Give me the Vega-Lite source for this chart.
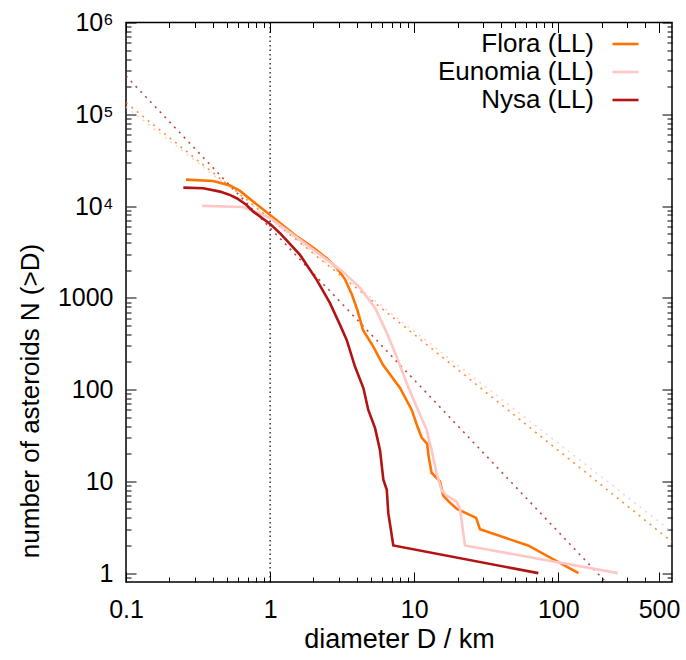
{
  "$schema": "https://vega.github.io/schema/vega-lite/v6.json",
  "width": 546,
  "height": 559.5,
  "autosize": {"type": "none"},
  "padding": {"left": 126, "top": 22.5, "right": 14, "bottom": 78},
  "background": "white",
  "config": {
    "font": "Liberation Sans",
    "view": {"stroke": "#000000", "strokeWidth": 1.5},
    "axis": {
      "domain": false, "grid": false, "tickColor": "#000000", "tickWidth": 1,
      "labelColor": "#000000", "labelFontSize": 25, "labelFont": "Liberation Sans",
      "titleFontSize": 26, "titleFontWeight": "normal", "titleColor": "#000000", "titleFont": "Liberation Sans"
    }
  },
  "datasets": {
    "curves": [
      {"set": "Flora (LL)", "D": 0.261, "N": 19400},
      {"set": "Flora (LL)", "D": 0.402, "N": 18770},
      {"set": "Flora (LL)", "D": 0.527, "N": 16760},
      {"set": "Flora (LL)", "D": 0.618, "N": 14600},
      {"set": "Flora (LL)", "D": 0.765, "N": 11160},
      {"set": "Flora (LL)", "D": 1.0, "N": 8000},
      {"set": "Flora (LL)", "D": 1.537, "N": 4640},
      {"set": "Flora (LL)", "D": 2.0, "N": 3500},
      {"set": "Flora (LL)", "D": 2.5, "N": 2650},
      {"set": "Flora (LL)", "D": 2.9, "N": 2120},
      {"set": "Flora (LL)", "D": 3.3, "N": 1600},
      {"set": "Flora (LL)", "D": 3.7, "N": 1080},
      {"set": "Flora (LL)", "D": 4.05, "N": 720},
      {"set": "Flora (LL)", "D": 4.41, "N": 447},
      {"set": "Flora (LL)", "D": 5.2, "N": 294},
      {"set": "Flora (LL)", "D": 6.07, "N": 186},
      {"set": "Flora (LL)", "D": 7.97, "N": 104},
      {"set": "Flora (LL)", "D": 9.61, "N": 60},
      {"set": "Flora (LL)", "D": 10.6, "N": 38.3},
      {"set": "Flora (LL)", "D": 11.3, "N": 29.8},
      {"set": "Flora (LL)", "D": 12.3, "N": 25.6},
      {"set": "Flora (LL)", "D": 12.6, "N": 18.5},
      {"set": "Flora (LL)", "D": 13.2, "N": 12.4},
      {"set": "Flora (LL)", "D": 15.1, "N": 10},
      {"set": "Flora (LL)", "D": 15.9, "N": 7},
      {"set": "Flora (LL)", "D": 17.4, "N": 6},
      {"set": "Flora (LL)", "D": 19.8, "N": 5},
      {"set": "Flora (LL)", "D": 26.9, "N": 4},
      {"set": "Flora (LL)", "D": 28.6, "N": 3},
      {"set": "Flora (LL)", "D": 61.6, "N": 2},
      {"set": "Flora (LL)", "D": 138, "N": 1},
      {"set": "Eunomia (LL)", "D": 0.338, "N": 10030},
      {"set": "Eunomia (LL)", "D": 0.649, "N": 9770},
      {"set": "Eunomia (LL)", "D": 1.0, "N": 7410},
      {"set": "Eunomia (LL)", "D": 1.613, "N": 4275},
      {"set": "Eunomia (LL)", "D": 2.33, "N": 2790},
      {"set": "Eunomia (LL)", "D": 3.21, "N": 1915},
      {"set": "Eunomia (LL)", "D": 4.21, "N": 1282},
      {"set": "Eunomia (LL)", "D": 5.35, "N": 776},
      {"set": "Eunomia (LL)", "D": 6.45, "N": 415},
      {"set": "Eunomia (LL)", "D": 7.56, "N": 227},
      {"set": "Eunomia (LL)", "D": 8.87, "N": 117},
      {"set": "Eunomia (LL)", "D": 10.4, "N": 64.6},
      {"set": "Eunomia (LL)", "D": 12.2, "N": 36.4},
      {"set": "Eunomia (LL)", "D": 13.2, "N": 22},
      {"set": "Eunomia (LL)", "D": 14.3, "N": 12.3},
      {"set": "Eunomia (LL)", "D": 15.5, "N": 8},
      {"set": "Eunomia (LL)", "D": 16.8, "N": 7},
      {"set": "Eunomia (LL)", "D": 19.7, "N": 6},
      {"set": "Eunomia (LL)", "D": 20.8, "N": 5},
      {"set": "Eunomia (LL)", "D": 22.5, "N": 2},
      {"set": "Eunomia (LL)", "D": 259, "N": 1},
      {"set": "Nysa (LL)", "D": 0.25, "N": 15860},
      {"set": "Nysa (LL)", "D": 0.344, "N": 15630},
      {"set": "Nysa (LL)", "D": 0.449, "N": 14360},
      {"set": "Nysa (LL)", "D": 0.52, "N": 13300},
      {"set": "Nysa (LL)", "D": 0.586, "N": 12170},
      {"set": "Nysa (LL)", "D": 0.68, "N": 10400},
      {"set": "Nysa (LL)", "D": 0.765, "N": 8690},
      {"set": "Nysa (LL)", "D": 1.0, "N": 6385},
      {"set": "Nysa (LL)", "D": 1.171, "N": 5055},
      {"set": "Nysa (LL)", "D": 1.613, "N": 2933},
      {"set": "Nysa (LL)", "D": 2.106, "N": 1567},
      {"set": "Nysa (LL)", "D": 2.604, "N": 873},
      {"set": "Nysa (LL)", "D": 3.056, "N": 507},
      {"set": "Nysa (LL)", "D": 3.4, "N": 348},
      {"set": "Nysa (LL)", "D": 3.88, "N": 178},
      {"set": "Nysa (LL)", "D": 4.44, "N": 104},
      {"set": "Nysa (LL)", "D": 4.8, "N": 60},
      {"set": "Nysa (LL)", "D": 5.35, "N": 38},
      {"set": "Nysa (LL)", "D": 5.79, "N": 21.8},
      {"set": "Nysa (LL)", "D": 6.11, "N": 10.4},
      {"set": "Nysa (LL)", "D": 6.45, "N": 8.1},
      {"set": "Nysa (LL)", "D": 6.61, "N": 4.5},
      {"set": "Nysa (LL)", "D": 7.16, "N": 2},
      {"set": "Nysa (LL)", "D": 72.6, "N": 1}
    ],
    "fits": [
      {"set": "Flora (LL)", "D": 0.1, "N": 133600},
      {"set": "Flora (LL)", "D": 615, "N": 2.19},
      {"set": "Eunomia (LL)", "D": 0.1, "N": 120100},
      {"set": "Eunomia (LL)", "D": 615, "N": 2.82},
      {"set": "Nysa (LL)", "D": 0.1, "N": 261400},
      {"set": "Nysa (LL)", "D": 615, "N": 0.139}
    ],
    "unit": [{"D": 1}]
  },
  "layer": [
    {
      "data": {"name": "fits"},
      "mark": {"type": "line", "strokeDash": [2, 5], "strokeWidth": 1.6, "opacity": 0.8, "clip": true},
      "encoding": {
        "x": {"field": "D", "type": "quantitative",
          "scale": {"type": "log", "domain": [0.1, 615], "nice": false},
          "axis": {"orient": "bottom", "values": [0.2,0.3,0.4,0.5,0.6,0.7,0.8,0.9,2,3,4,5,6,7,8,9,20,30,40,50,60,70,80,90,200,300,400], "labels": false, "tickSize": -5, "title": null}},
        "y": {"field": "N", "type": "quantitative",
          "scale": {"type": "log", "domain": [0.8, 1000000], "nice": false},
          "axis": {"orient": "left", "values": [0.9,2,3,4,5,6,7,8,9,20,30,40,50,60,70,80,90,200,300,400,500,600,700,800,900,2000,3000,4000,5000,6000,7000,8000,9000,20000,30000,40000,50000,60000,70000,80000,90000,200000,300000,400000,500000,600000,700000,800000,900000], "labels": false, "tickSize": -5, "title": null}},
        "color": {"field": "set", "type": "nominal",
          "scale": {"domain": ["Flora (LL)", "Eunomia (LL)", "Nysa (LL)"], "range": ["#ff7300", "#ffc6c6", "#b21414"]},
          "legend": null}
      }
    },
    {
      "data": {"name": "unit"},
      "mark": {"type": "rule", "strokeDash": [1.5, 3], "strokeWidth": 1.2, "color": "#000000"},
      "encoding": {
        "x": {"field": "D", "type": "quantitative", "scale": {"type": "log", "domain": [0.1, 615], "nice": false},
          "axis": {"orient": "top", "values": [0.1, 1, 10, 100, 500], "labels": false, "tickSize": -10, "title": null}}
      }
    },
    {
      "data": {"name": "fits"},
      "mark": {"type": "point", "opacity": 0},
      "encoding": {
        "x": {"field": "D", "type": "quantitative", "scale": {"type": "log", "domain": [0.1, 615], "nice": false},
          "axis": {"orient": "top", "values": [0.2,0.3,0.4,0.5,0.6,0.7,0.8,0.9,2,3,4,5,6,7,8,9,20,30,40,50,60,70,80,90,200,300,400], "labels": false, "tickSize": -5, "title": null}},
        "y": {"field": "N", "type": "quantitative", "scale": {"type": "log", "domain": [0.8, 1000000], "nice": false},
          "axis": {"orient": "right", "values": [1,10,100,1000,10000,100000,1000000], "labels": false, "tickSize": -10, "title": null}}
      }
    },
    {
      "data": {"name": "fits"},
      "mark": {"type": "point", "opacity": 0},
      "encoding": {
        "x": {"field": "D", "type": "quantitative", "scale": {"type": "log", "domain": [0.1, 615], "nice": false},
          "axis": null},
        "y": {"field": "N", "type": "quantitative", "scale": {"type": "log", "domain": [0.8, 1000000], "nice": false},
          "axis": {"orient": "right", "values": [0.9,2,3,4,5,6,7,8,9,20,30,40,50,60,70,80,90,200,300,400,500,600,700,800,900,2000,3000,4000,5000,6000,7000,8000,9000,20000,30000,40000,50000,60000,70000,80000,90000,200000,300000,400000,500000,600000,700000,800000,900000], "labels": false, "tickSize": -5, "title": null}}
      }
    },
    {
      "data": {"name": "curves"},
      "mark": {"type": "line", "strokeWidth": 2.6, "clip": true},
      "encoding": {
        "x": {"field": "D", "type": "quantitative", "scale": {"type": "log", "domain": [0.1, 615], "nice": false},
          "axis": {"orient": "bottom", "values": [0.1, 1, 10, 100, 500], "tickSize": -10, "labelPadding": 25,
            "labelExpr": "datum.value < 1 ? '0.1' : format(datum.value, 'd')", "labelFlush": false,
            "title": "diameter D / km", "titlePadding": 4, "titleFontSize": 27}},
        "y": {"field": "N", "type": "quantitative", "scale": {"type": "log", "domain": [0.8, 1000000], "nice": false},
          "axis": {"orient": "left", "values": [1,10,100,1000,10000,100000,1000000], "tickSize": -10, "labelPadding": 23,
            "labelExpr": "datum.value == 10000 ? '10⁴' : datum.value == 100000 ? '10⁵' : datum.value == 1000000 ? '10⁶' : format(datum.value, 'd')",
            "title": "number of asteroids N (>D)", "titlePadding": 14, "titleY": 378}},
        "color": {"field": "set", "type": "nominal",
          "scale": {"domain": ["Flora (LL)", "Eunomia (LL)", "Nysa (LL)"], "range": ["#ff7300", "#ffc6c6", "#b21414"]},
          "legend": {"orient": "none", "legendX": 485, "legendY": 7, "title": null, "symbolType": "stroke",
            "symbolSize": 676, "symbolStrokeWidth": 2.6, "labelFontSize": 26, "labelFont": "Liberation Sans",
            "labelColor": "#000000", "labelAlign": "right", "labelOffset": -46, "rowPadding": -1, "labelLimit": 300}}
      }
    }
  ],
  "resolve": {"axis": {"x": "independent", "y": "independent"}, "scale": {"color": "independent"}}
}
